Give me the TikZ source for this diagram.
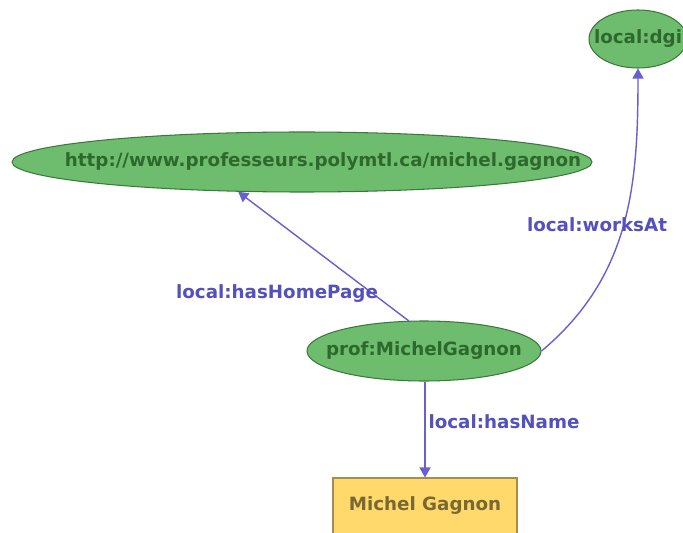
\documentclass[tikz,border=0pt]{standalone}
\usepackage{fontspec}
\setmainfont{DejaVu Sans}
\usetikzlibrary{shapes.geometric,arrows.meta}

\definecolor{resfill}{RGB}{110,189,110}
\definecolor{resline}{RGB}{60,120,60}
\definecolor{restext}{RGB}{45,105,45}
\definecolor{litfill}{RGB}{255,217,108}
\definecolor{litline}{RGB}{165,140,80}
\definecolor{littext}{RGB}{120,105,50}
\definecolor{propline}{RGB}{104,96,206}
\definecolor{proptext}{RGB}{84,80,190}

\begin{document}
\begin{tikzpicture}[
		resource/.style={draw=resline,ellipse,fill=resfill,text=restext,inner sep=0pt,line width=0.6pt},
		literal/.style={draw=litline,rectangle,fill=litfill,text=littext,inner sep=0pt,line width=0.6pt},
		prop/.style={draw=propline,line width=0.8pt,-{Triangle[length=2mm,width=2.2mm]}},
		proplabel/.style={text=proptext},
		every node/.style={font=\bfseries\fontsize{10.4pt}{12pt}\selectfont}]
		\useasboundingbox (0,0) rectangle (13.66,-10.66);
		\clip (0,0) rectangle (13.66,-10.66);
		
		\node[resource,minimum width=1.96cm,minimum height=1.16cm] (dgi) at (12.76,-.78) {\makebox[0pt]{local:dgi}};
		\node[resource,minimum width=11.6cm,minimum height=1.2cm] (home) at (6.04,-3.24) {\makebox[0pt]{\hspace*{.84cm}http://www.professeurs.polymtl.ca/michel.gagnon}};
		\node[resource,minimum width=4.68cm,minimum height=1.2cm] (prof) at (8.48,-7.02) {\makebox[0pt]{prof:MichelGagnon}};
		\node[literal,minimum width=3.68cm,minimum height=1.12cm] (name) at (8.5,-10.12) {Michel Gagnon};
		
		\draw[prop] (prof.117) -- (home.205);
		\draw[prop] (prof.east) to[out=40,in=-90] (dgi.south);
		\draw[prop] (prof.south -| name.north) -- (name.north);
		
		\node[proplabel] (hashome) at (5.54,-5.88) {local:hasHomePage};
		\node[proplabel] (worksat) at (11.94,-4.5) {local:worksAt};
		\node[proplabel] (hasname) at (10.08,-8.44) {local:hasName};
		\end{tikzpicture}
\end{document}
